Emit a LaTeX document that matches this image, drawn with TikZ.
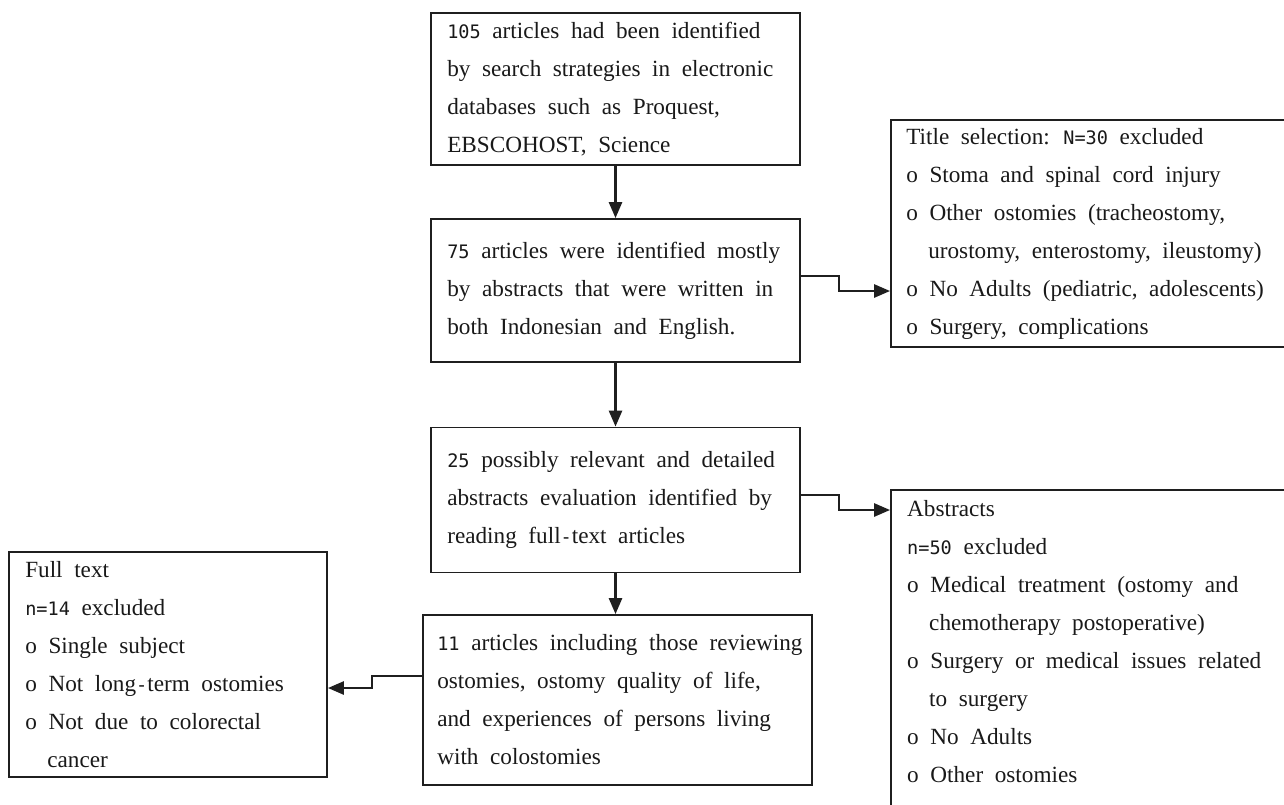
\documentclass[tikz,border=0pt]{standalone}
\usepackage{fontspec}
\setmainfont{Liberation Serif}[WordSpace=2]
\newfontfamily\monofont{DejaVu Sans Mono}[Scale=0.8]
\newcommand\nm[1]{{\monofont #1}}
\usetikzlibrary{arrows.meta}
\begin{document}
\begin{tikzpicture}[x=1pt,y=-1pt,
  boxshape/.style={draw=black!88, line width=1.8pt, inner sep=0pt},
  txt/.style={inner sep=0pt, align=left, text=black!90, font=\fontsize{23.2}{38}\selectfont},
  arr/.style={line width=2.6pt, draw=black!88, -{Triangle[length=16pt,width=13pt]}}]
\useasboundingbox (0,0) rectangle (1284,804);
\fill[white] (0,0) rectangle (1284,804);
\clip (0,0) rectangle (1284,804);
% main column
\node[boxshape, minimum width=369pt, minimum height=152pt] (a) at (615.5,89) {};
\node[txt, anchor=west] (at) at ([xshift=17pt]a.west) {\nm{105} articles had been identified\\by search strategies in electronic\\databases such as Proquest,\\EBSCOHOST, Science};
\node[boxshape, minimum width=369pt, minimum height=143pt] (b) at (615.5,290.5) {};
\node[txt, anchor=west] (bt) at ([xshift=17pt]b.west) {\nm{75} articles were identified mostly\\by abstracts that were written in\\both Indonesian and English.};
\node[boxshape, minimum width=369pt, minimum height=145pt] (c) at (615.5,500) {};
\node[txt, anchor=west] (ct) at ([xshift=17pt]c.west) {\nm{25} possibly relevant and detailed\\abstracts evaluation identified by\\reading full\nm{-}text articles};
\node[boxshape, minimum width=389pt, minimum height=170pt] (d) at (617.5,700) {};
\node[txt, anchor=west] (dt) at ([xshift=15pt]d.west) {\nm{11} articles including those reviewing\\ostomies, ostomy quality of life,\\and experiences of persons living\\with colostomies};
% left box
\node[boxshape, minimum width=318pt, minimum height=225pt] (l) at (168,664.5) {};
\node[txt, anchor=west] (lt) at ([xshift=17pt]l.west) {Full text\\\nm{n=14} excluded\\o Single subject\\o Not long\nm{-}term ostomies\\o Not due to colorectal\\\hspace*{22pt}cancer};
% right boxes
\node[boxshape, minimum width=409pt, minimum height=227pt] (r1) at (1095.5,233.5) {};
\node[txt, anchor=west] (r1t) at ([xshift=16pt]r1.west) {Title selection: \nm{N=30} excluded\\o Stoma and spinal cord injury\\o Other ostomies (tracheostomy,\\\hspace*{22pt}urostomy, enterostomy, ileustomy)\\o No Adults (pediatric, adolescents)\\o Surgery, complications};
\node[boxshape, minimum width=409pt, minimum height=340pt] (r2) at (1095.5,660) {};
\node[txt, anchor=north west] (r2t) at (907,500) {Abstracts\\\nm{n=50} excluded\\o Medical treatment (ostomy and\\\hspace*{22pt}chemotherapy postoperative)\\o Surgery or medical issues related\\\hspace*{22pt}to surgery\\o No Adults\\o Other ostomies};
% connectors
\draw[arr] (a) -- (b);
\draw[arr] (b) -- (c);
\draw[arr] (c) -- (c |- d.north);
\draw[arr] ([yshift=14.5pt]b.east) -- ++(38,0) |- ([yshift=-57.5pt]r1.west);
\draw[arr] ([yshift=5pt]c.east) -- ++(38,0) |- ([yshift=150pt]r2.west);
\draw[arr] ([yshift=24pt]d.west) -- ++(-50,0) |- ([yshift=-23.5pt]l.east);
\end{tikzpicture}
\end{document}
